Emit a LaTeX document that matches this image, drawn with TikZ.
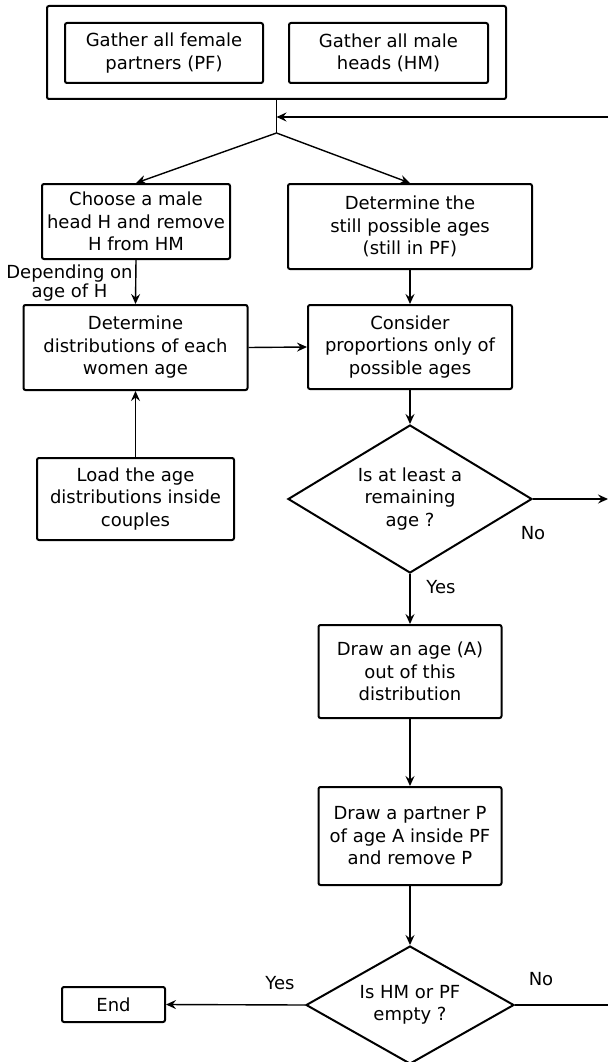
\documentclass[tikz,border=0pt]{standalone}
\usepackage{fontspec}
\setmainfont{DejaVu Sans}
\usetikzlibrary{arrows.meta,shapes.geometric}

\tikzset{
  txt/.style={font=\fontsize{18}{22.5}\selectfont},
  box/.style={draw, line width=2pt, rounded corners=2pt, align=center,
    inner sep=0pt, txt},
  decision/.style={draw, line width=2pt, diamond, align=center, inner sep=0pt, txt},
  conn/.style={line width=1.4pt},
  arr/.style={conn, -{Stealth[length=10pt,width=9pt,inset=3.5pt]}},
  lbl/.style={font=\fontsize{18}{19}\selectfont, align=center, inner sep=0pt},
}

\begin{document}
\begin{tikzpicture}[x=1pt,y=-1pt]
\useasboundingbox (0,0) rectangle (608,1062);

% initial gathering step
\node[box, minimum width=459pt, minimum height=93pt] (outer) at (276.5,52.5) {};
\node[box, minimum width=198pt, minimum height=60pt] (pf) at (164,53)
  {Gather all female\\partners (PF)};
\node[box, minimum width=199pt, minimum height=60pt] (hm) at (388.5,53)
  {Gather all male\\heads (HM)};

\coordinate (junction) at (276.5,117);
\coordinate (branch) at (276.5,133);
\coordinate (loopin) at (608,117);

% left column
\node[box, minimum width=188pt, minimum height=75pt] (choose) at (136,221.5)
  {Choose a male\\head H and remove\\H from HM};
\node[box, minimum width=224pt, minimum height=85pt] (dist) at (135.5,347.5)
  {Determine\\distributions of each\\women age};
\node[box, minimum width=197pt, minimum height=82pt] (load) at (135.5,499)
  {Load the age\\distributions inside\\couples};

% right column
\node[box, minimum width=244pt, minimum height=85pt] (still) at (410,226.5)
  {Determine the\\still possible ages\\(still in PF)};
\node[box, minimum width=204pt, minimum height=84pt] (consider) at (410,347)
  {Consider\\proportions only of\\possible ages};
\node[decision, minimum width=244pt, minimum height=148pt, aspect=1.65] (d1) at (410,499)
  {Is at least a\\remaining\\age ?};
\node[box, minimum width=183pt, minimum height=93pt] (drawage) at (410,671.5)
  {Draw an age (A)\\out of this\\distribution};
\node[box, minimum width=183pt, minimum height=98pt] (partner) at (410,836)
  {Draw a partner P\\of age A inside PF\\and remove P};
\node[decision, minimum width=208pt, minimum height=118pt, aspect=1.76] (d2) at (410,1005)
  {Is HM or PF\\empty ?};
\node[box, minimum width=103pt, minimum height=35pt] (end) at (113.5,1004.5) {End};

\coordinate (noout) at (608,499);
\coordinate (loopout) at (608,1005);

% connectors
\draw[conn] (outer.south) -- (branch);
\draw[arr] (loopin) -- (junction);
\draw[arr] (branch) -- (choose.north);
\draw[arr] (branch) -- (still.north);
\draw[arr] (choose.south) -- (dist.north);
\draw[arr] (still.south) -- (consider.north);
\draw[arr] (dist.east) -- (consider.west);
\draw[arr] (load.north) -- (dist.south);
\draw[arr] (consider.south) -- (d1.north);
\draw[arr] (d1.east) -- (noout);
\draw[arr] (d1.south) -- (drawage.north);
\draw[arr] (drawage.south) -- (partner.north);
\draw[arr] (partner.south) -- (d2.north);
\draw[arr] (d2.west) -- (end.east);
\draw[conn] (d2.east) -- (loopout);

% connector labels
\node[lbl] (dep) at (69.5,283) {Depending on\\age of H};
\node[lbl] (no1) at (533,533) {No};
\node[lbl] (yes1) at (441,587) {Yes};
\node[lbl] (yes2) at (280,983) {Yes};
\node[lbl] (no2) at (541,979) {No};
\end{tikzpicture}
\end{document}
